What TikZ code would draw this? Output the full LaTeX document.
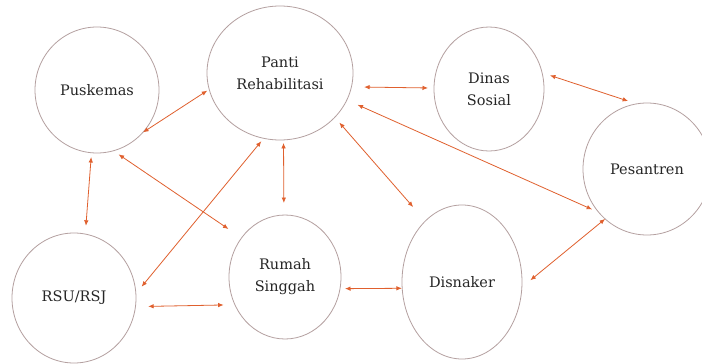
\documentclass[tikz,border=0pt]{standalone}
\usepackage{fontspec}
\setmainfont{DejaVu Serif}
\usetikzlibrary{shapes.geometric,arrows.meta}
\definecolor{arr}{HTML}{E0602E}
\definecolor{ring}{HTML}{B4A0A0}
\definecolor{txt}{HTML}{262626}
\tikzset{
  org/.style={ellipse, draw=ring, line width=0.8pt, inner sep=0pt, outer sep=0pt,
    align=center, text=txt, font=\fontsize{14.5}{22}\selectfont},
  link/.style={arr, line width=0.8pt, {Latex[length=5.5pt,width=4.5pt]}-{Latex[length=5.5pt,width=4.5pt]}}
}
\begin{document}
\begin{tikzpicture}[x=1pt,y=-1pt]
\clip (0,0) rectangle (702,364);
\fill[white] (0,0) rectangle (702,364);
\node[org, minimum width=124pt, minimum height=126pt] (pus) at (97,90) {Puskemas};
\node[org, minimum width=146pt, minimum height=134pt] (panti) at (280,73) {Panti\\Rehabilitasi};
\node[org, minimum width=110pt, minimum height=124pt] (dinas) at (489,89) {Dinas\\Sosial};
\node[org, minimum width=128pt, minimum height=132pt] (pes) at (647,169) {Pesantren};
\node[org, minimum width=124pt, minimum height=130pt] (rsu) at (74,298) {RSU/RSJ};
\node[org, minimum width=112pt, minimum height=124pt] (rumah) at (285,277) {Rumah\\Singgah};
\node[org, minimum width=120pt, minimum height=154pt] (dis) at (462,282) {Disnaker};

\draw[link, shorten <=0.5pt, shorten >=2.3pt] (pus.-43) -- (panti.-167);
\draw[link, shorten <=12.7pt, shorten >=6pt] (panti.-11) -- (dinas.179);
\draw[link, shorten <=8.3pt, shorten >=9pt] (dinas.17) -- (pes.99);
\draw[link, shorten <=11.8pt, shorten >=7.3pt] (panti.-22) -- (pes.-138);
\draw[link, shorten <=7pt, shorten >=18.5pt] (panti.-39) -- (dis.121);
\draw[link, shorten <=3pt, shorten >=12pt] (panti.-87.5) -- (rumah.91.5);
\draw[link, shorten <=3.8pt, shorten >=9pt] (panti.-104) -- (rsu.4);
\draw[link, shorten <=4.3pt, shorten >=8.3pt] (pus.-95) -- (rsu.80);
\draw[link, shorten <=6.4pt, shorten >=15.8pt] (pus.-75) -- (rumah.138);
\draw[link, shorten <=12.7pt, shorten >=11.3pt] (rsu.-8) -- (rumah.-151);
\draw[link, shorten <=5pt, shorten >=0.3pt] (rumah.-12) -- (dis.-174);
\draw[link, shorten <=11pt, shorten >=0pt] (dis.-5) -- (pes.-130);
\end{tikzpicture}
\end{document}
